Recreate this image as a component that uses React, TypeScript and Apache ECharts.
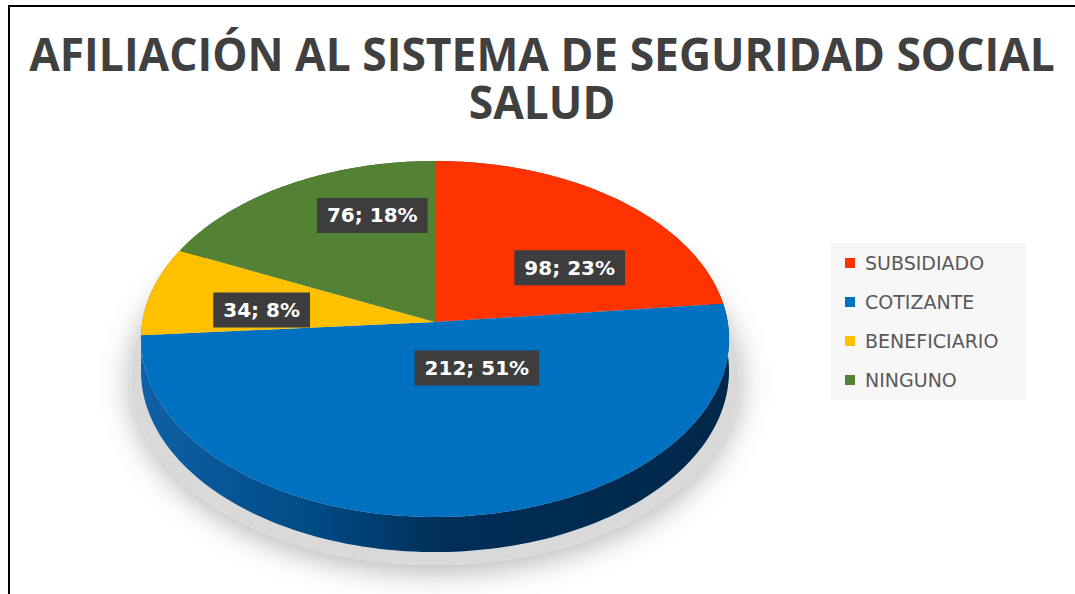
import React, { useEffect, useRef } from "react";
import * as echarts from "echarts";

// ---------- data ----------
const CATEGORIES = ["SUBSIDIADO", "COTIZANTE", "BENEFICIARIO", "NINGUNO"];
const VALUES = [98, 212, 34, 76];
const PERCENT_LABELS = ["23%", "51%", "8%", "18%"];
const COLORS = ["#ff3300", "#0070c0", "#ffc000", "#548235"];
const TITLE_LINES = ["AFILIACIÓN AL SISTEMA DE SEGURIDAD SOCIAL", "SALUD"];

// ---------- layout (perspective pie geometry) ----------
const CX = 435;
const CY = 322;
const RX = 292.7;
const RY = 176.4;
const PERSP = 0.0955;
const THICK = 31.7;
// label placement: [fraction along slice angle, radial fraction]
const LABEL_PLACE: [number, number][] = [
  [0.67, 0.57],
  [0.37, 0.29],
  [0.37, 0.6],
  [0.7, 0.68],
];

const TOTAL = VALUES.reduce((a, b) => a + b, 0);
const START: number[] = [];
const END: number[] = [];
{
  let acc = 0;
  VALUES.forEach((v) => {
    START.push((acc / TOTAL) * Math.PI * 2);
    acc += v;
    END.push((acc / TOTAL) * Math.PI * 2);
  });
}

function proj(theta: number, r: number, depth: number): number[] {
  const u = r * Math.sin(theta);
  const v = -r * Math.cos(theta);
  const w = 1 - PERSP * v;
  return [CX + (RX * u) / w, CY + (RY * v) / w + (depth * THICK) / w];
}

function arc(a1: number, a2: number, depth: number, scale = 1): number[][] {
  const n = Math.max(4, Math.ceil((Math.abs(a2 - a1) / (Math.PI * 2)) * 240));
  const pts: number[][] = [];
  for (let k = 0; k <= n; k++) {
    const t = a1 + ((a2 - a1) * k) / n;
    pts.push(proj(t, scale, depth));
  }
  return pts;
}

function sideFill(i: number) {
  if (i === 1) {
    return new echarts.graphic.LinearGradient(0, 0, 1, 0, [
      { offset: 0, color: "#0f60a6" },
      { offset: 0.3, color: "#004a84" },
      { offset: 0.52, color: "#002e58" },
      { offset: 1, color: "#00284a" },
    ]);
  }
  const dark = ["#a32000", "#00284a", "#9a7400", "#334f20"];
  return dark[i];
}

export default function App() {
  const ref = useRef<HTMLDivElement>(null);

  useEffect(() => {
    const chart = echarts.init(ref.current!, null, { renderer: "svg" });
    const seriesData = VALUES.map((v, i) => ({ name: CATEGORIES[i], value: v }));

    const option: any = {
      animation: false,
      backgroundColor: "#ffffff",
      legend: {
        orient: "vertical",
        left: 830,
        top: 243,
        data: CATEGORIES,
        icon: "rect",
        itemWidth: 10,
        itemHeight: 10,
        itemGap: 19,
        backgroundColor: "#f7f7f7",
        padding: [10, 28, 10, 15],
        selectedMode: false,
        textStyle: {
          fontFamily: "DejaVu Sans",
          fontSize: 19,
          color: "#595959",
          lineHeight: 20,
          padding: [0, 0, 0, 5],
        },
      },
      graphic: [
        { type: "rect", shape: { x: 8, y: 5, width: 1067, height: 2 }, style: { fill: "#000" } },
        { type: "rect", shape: { x: 8, y: 5, width: 2, height: 589 }, style: { fill: "#000" } },
        {
          type: "text",
          x: 542,
          y: 53,
          scaleX: 0.965,
          style: {
            text: TITLE_LINES[0],
            font: 'bold 46px "Open Sans"',
            fill: "#404040",
            align: "center",
            verticalAlign: "middle",
          },
        },
        {
          type: "text",
          x: 542,
          y: 101,
          scaleX: 0.965,
          style: {
            text: TITLE_LINES[1],
            font: 'bold 46px "Open Sans"',
            fill: "#404040",
            align: "center",
            verticalAlign: "middle",
          },
        },
      ],
      series: [
        {
          type: "pie",
          name: "legend",
          radius: [0, 0],
          center: [100, 580],
          silent: true,
          label: { show: false },
          labelLine: { show: false },
          data: VALUES.map((v, i) => ({ name: CATEGORIES[i], value: v, itemStyle: { color: COLORS[i] } })),
          z: 0,
        },
        {
          type: "custom",
          name: "sides",
          coordinateSystem: "none",
          silent: true,
          z: 1,
          data: seriesData,
          renderItem: (params: any) => {
            const i = params.dataIndex;
            const children: any[] = [];
            if (i === 0) {
              const shadowPts = arc(0, Math.PI * 2, 1.15, 1.035);
              children.push({
                type: "polygon",
                shape: { points: shadowPts },
                style: {
                  fill: "#d9d9d9",
                  shadowBlur: 30,
                  shadowColor: "rgba(0,0,0,0.3)",
                  shadowOffsetY: 6,
                },
              });
            }
            const pts = arc(START[i], END[i], 0).concat(arc(END[i], START[i], 1));
            children.push({
              type: "polygon",
              shape: { points: pts },
              style: { fill: sideFill(i) },
            });
            return { type: "group", children };
          },
        },
        {
          type: "custom",
          name: "tops",
          coordinateSystem: "none",
          silent: true,
          z: 2,
          data: seriesData,
          renderItem: (params: any) => {
            const i = params.dataIndex;
            const pts = [proj(0, 0, 0)].concat(arc(START[i], END[i], 0));
            const [lf, lr] = LABEL_PLACE[i];
            const lp = proj(START[i] + (END[i] - START[i]) * lf, lr, 0);
            return {
              type: "group",
              children: [
                { type: "polygon", z2: 1, shape: { points: pts }, style: { fill: COLORS[i] } },
                {
                  type: "text",
                  z2: 20,
                  x: lp[0],
                  y: lp[1],
                  style: {
                    text: `${VALUES[i]}; ${PERCENT_LABELS[i]}`,
                    fill: "#ffffff",
                    font: 'bold 20px "DejaVu Sans"',
                    align: "center",
                    verticalAlign: "middle",
                    lineHeight: 21,
                    backgroundColor: "#3d3d3d",
                    padding: [7, 10, 7, 10],
                  },
                },
              ],
            };
          },
        },
      ],
    };
    chart.setOption(option);
    return () => chart.dispose();
  }, []);

  return (
    <div
      ref={ref}
      style={{ position: "fixed", left: 0, top: 0, width: 1075, height: 594, background: "#fff" }}
    />
  );
}
